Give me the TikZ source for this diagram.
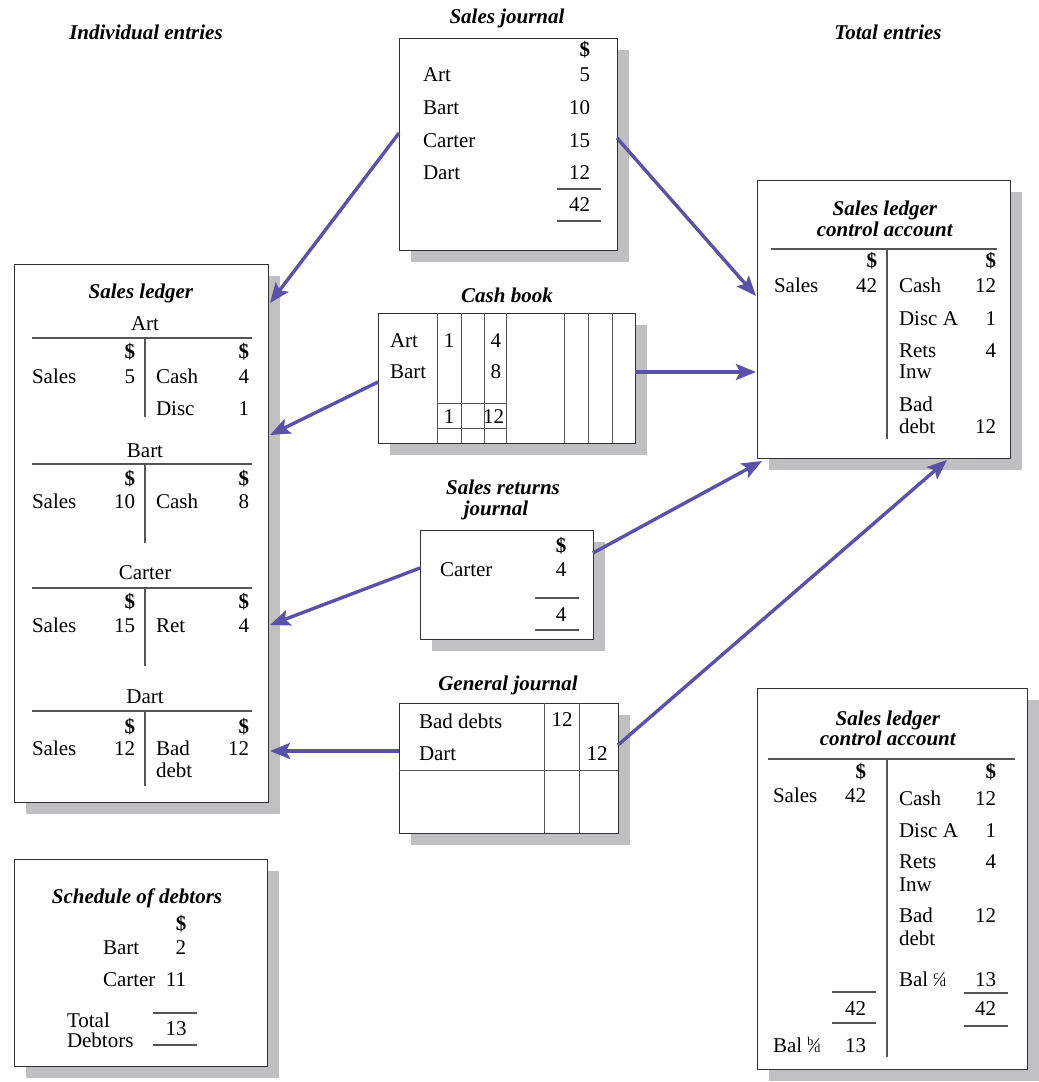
\documentclass[tikz,border=0pt]{standalone}
\usepackage{fontspec}
\setmainfont{Liberation Serif}
\usetikzlibrary{arrows.meta,calc,shadows}
\definecolor{arrowc}{RGB}{90,81,168}
\definecolor{shadowc}{RGB}{192,192,194}
\definecolor{boxc}{RGB}{50,50,50}
\definecolor{rulec}{RGB}{85,85,85}
\newcounter{tn}
\newcommand\tx[4]{\stepcounter{tn}\node[anchor=#1] (t\arabic{tn}) at (#2,#3) {#4};}
\newcommand\ttl[1]{\textbf{\textit{#1}}}
\newcommand\dol{\textbf{\$}}
\newcommand\frc[2]{\raisebox{0.32em}{\fontsize{12}{12}\selectfont #1}\kern-1pt⁄\kern-1.5pt{\fontsize{12}{12}\selectfont #2}}
\begin{document}
\begin{tikzpicture}[x=1pt,y=-1pt,
  every node/.style={inner sep=0pt,outer sep=0pt,font=\fontsize{21}{22}\selectfont},
  box/.style={draw=boxc,line width=0.85pt,fill=white,anchor=north west,inner sep=0pt,
    drop shadow={shadow xshift=12pt,shadow yshift=-12pt,fill=shadowc,opacity=1}},
  rule/.style={draw=rulec,line width=1.2pt},
  arr/.style={draw=arrowc,line width=3.4pt,-{Stealth[length=20pt,width=16pt,inset=4pt]}}]
\useasboundingbox (0,0) rectangle (1039,1082);

% headers
\tx{base}{146}{39}{\ttl{Individual entries}}
\tx{base}{888}{39}{\ttl{Total entries}}
\tx{base}{507}{23}{\ttl{Sales journal}}

% ---------- boxes ----------
\node[box,minimum width=218pt,minimum height=212pt] (sj) at (399,38) {};
\node[box,minimum width=254pt,minimum height=538pt] (sl) at (14,264) {};
\node[box,minimum width=257pt,minimum height=130pt] (cb) at (378,313) {};
\node[box,minimum width=173pt,minimum height=109pt] (sr) at (420,530) {};
\node[box,minimum width=219pt,minimum height=130pt] (gj) at (399,703) {};
\node[box,minimum width=253pt,minimum height=278pt] (ca) at (757,180) {};
\node[box,minimum width=270pt,minimum height=381pt] (cc) at (757,688) {};
\node[box,minimum width=253pt,minimum height=207pt] (sd) at (14,859) {};

% ---------- sales journal ----------
\tx{base east}{590}{56}{\dol}
\tx{base west}{423}{81}{Art}      \tx{base east}{590}{81}{5}
\tx{base west}{423}{114}{Bart}    \tx{base east}{590}{114}{10}
\tx{base west}{423}{147}{Carter}  \tx{base east}{590}{147}{15}
\tx{base west}{423}{179}{Dart}    \tx{base east}{590}{179}{12}
\draw[rule] (557,189) -- (601,189);
\tx{base east}{590}{211}{42}
\draw[rule] (557,221) -- (601,221);

% ---------- sales ledger ----------
\tx{base}{141}{298}{\ttl{Sales ledger}}
% Art
\tx{base}{145}{330}{Art}
\draw[rule] (32,338) -- (252,338);
\draw[rule] (145,338) -- (145,417);
\tx{base east}{135}{358}{\dol} \tx{base east}{249}{358}{\dol}
\tx{base west}{32}{383}{Sales} \tx{base east}{135}{383}{5}
\tx{base west}{156}{383}{Cash} \tx{base east}{249}{383}{4}
\tx{base west}{156}{415}{Disc} \tx{base east}{249}{415}{1}
% Bart
\tx{base}{145}{457}{Bart}
\draw[rule] (32,464) -- (252,464);
\draw[rule] (145,464) -- (145,543);
\tx{base east}{135}{485}{\dol} \tx{base east}{249}{485}{\dol}
\tx{base west}{32}{508}{Sales} \tx{base east}{135}{508}{10}
\tx{base west}{156}{508}{Cash} \tx{base east}{249}{508}{8}
% Carter
\tx{base}{145}{579}{Carter}
\draw[rule] (32,588) -- (252,588);
\draw[rule] (145,588) -- (145,666);
\tx{base east}{135}{608}{\dol} \tx{base east}{249}{608}{\dol}
\tx{base west}{32}{632}{Sales} \tx{base east}{135}{632}{15}
\tx{base west}{156}{632}{Ret}  \tx{base east}{249}{632}{4}
% Dart
\tx{base}{145}{703}{Dart}
\draw[rule] (32,711) -- (252,711);
\draw[rule] (145,711) -- (145,786);
\tx{base east}{135}{733}{\dol} \tx{base east}{249}{733}{\dol}
\tx{base west}{32}{755}{Sales} \tx{base east}{135}{755}{12}
\tx{base west}{156}{755}{Bad}  \tx{base east}{249}{755}{12}
\tx{base west}{156}{777}{debt}

% ---------- cash book ----------
\tx{base}{507}{302}{\ttl{Cash book}}
\foreach \xx in {437,461,484,506,564,588,612} \draw[rule,line width=0.9pt] (\xx,313) -- (\xx,443);
\draw[rule,line width=0.9pt] (437,403) -- (506,403);
\draw[rule,line width=0.9pt] (437,428) -- (506,428);
\tx{base west}{390}{347}{Art}  \tx{base}{449}{347}{1} \tx{base east}{501}{347}{4}
\tx{base west}{390}{378}{Bart} \tx{base east}{501}{378}{8}
\tx{base}{449}{423}{1} \tx{base east}{504}{423}{12}

% ---------- sales returns journal ----------
\tx{base}{503}{494}{\ttl{Sales returns}}
\tx{base}{496}{515}{\ttl{journal}}
\tx{base}{561}{552}{\dol}
\tx{base west}{440}{576}{Carter} \tx{base}{561}{576}{4}
\draw[rule] (535,598) -- (579,598);
\tx{base}{561}{621}{4}
\draw[rule] (535,630) -- (579,630);

% ---------- general journal ----------
\tx{base}{508}{690}{\ttl{General journal}}
\draw[rule,line width=0.9pt] (544,703) -- (544,833);
\draw[rule,line width=0.9pt] (579,703) -- (579,833);
\draw[rule,line width=0.9pt] (399,770) -- (618,770);
\tx{base west}{419}{728}{Bad debts} \tx{base}{562}{726}{12}
\tx{base west}{419}{760}{Dart}      \tx{base}{597}{760}{12}

% ---------- control account (top) ----------
\tx{base}{885}{215}{\ttl{Sales ledger}}
\tx{base}{885}{236}{\ttl{control account}}
\draw[rule] (771,249) -- (997,249);
\draw[rule] (887,249) -- (887,439);
\tx{base east}{877}{267}{\dol} \tx{base east}{996}{267}{\dol}
\tx{base west}{774}{292}{Sales} \tx{base east}{877}{292}{42}
\tx{base west}{899}{292}{Cash}  \tx{base east}{996}{292}{12}
\tx{base west}{899}{325}{Disc A} \tx{base east}{996}{325}{1}
\tx{base west}{899}{357}{Rets} \tx{base east}{996}{357}{4}
\tx{base west}{899}{378}{Inw}
\tx{base west}{899}{411}{Bad}
\tx{base west}{899}{433}{debt} \tx{base east}{996}{433}{12}

% ---------- control account (bottom) ----------
\tx{base}{888}{725}{\ttl{Sales ledger}}
\tx{base}{888}{745}{\ttl{control account}}
\draw[rule] (768,759) -- (1015,759);
\draw[rule] (887,759) -- (887,1057);
\tx{base east}{866}{778}{\dol} \tx{base east}{996}{778}{\dol}
\tx{base west}{773}{802}{Sales} \tx{base east}{866}{802}{42}
\tx{base west}{899}{805}{Cash}  \tx{base east}{996}{805}{12}
\tx{base west}{899}{837}{Disc A} \tx{base east}{996}{837}{1}
\tx{base west}{899}{868}{Rets} \tx{base east}{996}{868}{4}
\tx{base west}{899}{891}{Inw}
\tx{base west}{899}{922}{Bad}  \tx{base east}{996}{922}{12}
\tx{base west}{899}{945}{debt}
\tx{base west}{899}{986}{Bal \frc{c}{d}} \tx{base east}{996}{986}{13}
\draw[rule] (964,993) -- (1008,993);
\tx{base east}{996}{1015}{42}
\draw[rule] (964,1026) -- (1008,1026);
\draw[rule] (832,992) -- (876,992);
\tx{base east}{866}{1015}{42}
\draw[rule] (832,1023) -- (876,1023);
\tx{base west}{773}{1052}{Bal \frc{b}{d}} \tx{base east}{866}{1052}{13}

% ---------- schedule of debtors ----------
\tx{base}{137}{903}{\ttl{Schedule of debtors}}
\tx{base}{181}{930}{\dol}
\tx{base west}{103}{954}{Bart}   \tx{base east}{186}{954}{2}
\tx{base west}{103}{986}{Carter} \tx{base east}{186}{986}{11}
\tx{base west}{67}{1027}{Total}
\tx{base west}{67}{1047}{Debtors}
\draw[rule] (153,1013) -- (197,1013);
\tx{base}{176}{1035}{13}
\draw[rule] (153,1045) -- (197,1045);

% ---------- connectors ----------
\draw[arr] ($(sj.north west)+(0,95)$) -- ($(sl.north east)+(2,39)$);
\draw[arr] ($(sj.north east)+(0,100)$) -- ($(ca.north west)+(-1,116)$);
\draw[arr] ($(cb.north west)+(0,69)$) -- ($(sl.north east)+(2,171)$);
\draw[arr] ($(cb.north east)+(0,59)$) -- ($(ca.north west)+(-1,192)$);
\draw[arr] ($(sr.north west)+(0,38)$) -- ($(sl.north east)+(2,361)$);
\draw[arr] ($(sr.north east)+(0,23)$) -- ($(ca.south west)+(5,3)$);
\draw[arr] ($(gj.north west)+(0,48)$) -- ($(sl.north east)+(2,487)$);
\draw[arr] ($(gj.north east)+(0,42)$) -- ($(ca.south west)+(190,2)$);
\end{tikzpicture}
\end{document}
